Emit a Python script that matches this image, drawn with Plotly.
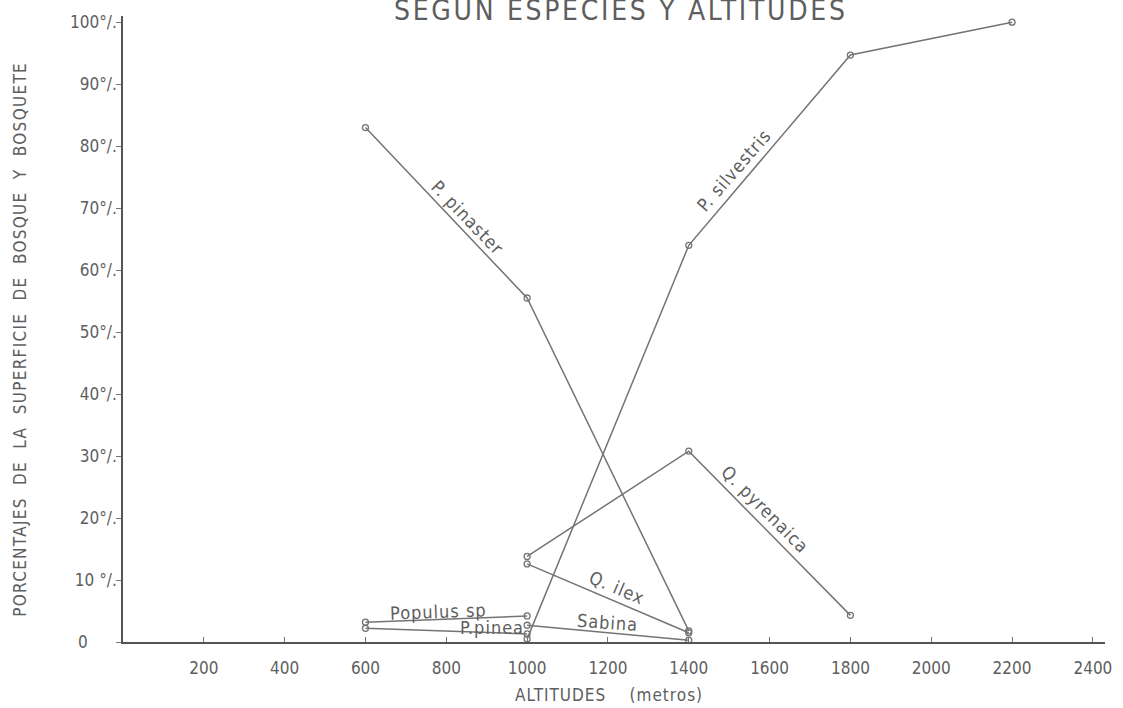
import plotly.graph_objects as go

# ---------------- data ----------------
pinaster_x = [600, 1000, 1400]
pinaster_y = [83.0, 55.5, 1.8]

silvestris_x = [1000, 1400, 1800, 2200]
silvestris_y = [0.5, 64.0, 94.7, 100.0]

pyrenaica_x = [1000, 1400, 1800]
pyrenaica_y = [13.8, 30.8, 4.3]

ilex_x = [1000, 1400]
ilex_y = [12.6, 1.5]

sabina_x = [1000, 1400]
sabina_y = [2.7, 0.3]

populus_x = [600, 1000]
populus_y = [3.2, 4.2]

pinea_x = [600, 1000]
pinea_y = [2.2, 1.3]

x_tickvals = [200, 400, 600, 800, 1000, 1200, 1400, 1600, 1800, 2000, 2200, 2400]
y_tickvals = [0, 10, 20, 30, 40, 50, 60, 70, 80, 90, 100]
y_ticktext = ["0\u00a0\u00a0\u00a0\u00a0\u00a0\u00a0", "10 °/.", "20°/.", "30°/.", "40°/.", "50°/.",
              "60°/.", "70°/.", "80°/.", "90°/.", "100°/."]

series = [
    ("P. pinaster", pinaster_x, pinaster_y),
    ("P. silvestris", silvestris_x, silvestris_y),
    ("Q. pyrenaica", pyrenaica_x, pyrenaica_y),
    ("Q. ilex", ilex_x, ilex_y),
    ("Sabina", sabina_x, sabina_y),
    ("Populus sp", populus_x, populus_y),
    ("P.pinea", pinea_x, pinea_y),
]

# label placement: (segment index, textangle, xshift, yshift)
label_style = {
    "P. pinaster": (0, 46, 21, -5),
    "P. silvestris": (1, -49, -36, -20),
    "Q. pyrenaica": (1, 45, -4, 24),
    "Q. ilex": (0, 23, 9, 11),
    "Sabina": (0, 4, 0, 10),
    "Populus sp": (0, -2, -8, 8),
    "P.pinea": (0, 0, 46, 4),
}

FONT = "Liberation Sans Narrow, DejaVu Sans Condensed, DejaVu Sans, sans-serif"
INK = "#5e5e5e"
LINE = "#747474"

fig = go.Figure()
for name, xs, ys in series:
    fig.add_trace(go.Scatter(
        x=xs, y=ys, mode="lines+markers", name=name,
        line=dict(color=LINE, width=1.5),
        marker=dict(symbol="circle-open", size=6, color=LINE, line=dict(width=1.3)),
        showlegend=False, hoverinfo="x+y+name",
    ))
    seg, ang, dx, dy = label_style[name]
    mx = (xs[seg] + xs[seg + 1]) / 2
    my = (ys[seg] + ys[seg + 1]) / 2
    fig.add_annotation(x=mx, y=my, xref="x", yref="y",
                       text='<span style="letter-spacing:1px">' + name + '</span>',
                       showarrow=False, textangle=ang, xshift=dx, yshift=dy,
                       font=dict(family=FONT, size=18, color=INK))

# title (partly cut by the top edge, as in the scan)
fig.add_annotation(x=0.5076, y=0.9797, xref="paper", yref="paper",
                   text='<span style="letter-spacing:2.7px">SEGUN ESPECIES Y ALTITUDES</span>',
                   showarrow=False, xanchor="center", yanchor="bottom",
                   font=dict(family=FONT, size=28, color=INK))

# y-axis title
fig.add_annotation(x=-0.1052, y=0.4839, xref="paper", yref="paper",
                   text='<span style="letter-spacing:1.3px">PORCENTAJES\u00a0 DE\u00a0 LA\u00a0 SUPERFICIE\u00a0 DE\u00a0 BOSQUE\u00a0 Y\u00a0 BOSQUETE</span>',
                   showarrow=False, textangle=-90, xanchor="center", yanchor="middle",
                   font=dict(family=FONT, size=17, color=INK))

# x-axis title
fig.add_annotation(x=0.4944, y=-0.0846, xref="paper", yref="paper",
                   text='<span style="letter-spacing:1px">ALTITUDES\u00a0\u00a0\u00a0 (metros)</span>',
                   showarrow=False, xanchor="center", yanchor="middle",
                   font=dict(family=FONT, size=17, color=INK))

fig.update_xaxes(range=[0, 2430], tickvals=x_tickvals, ticks="inside", ticklen=5,
                 tickcolor=LINE, tickwidth=1.3, showgrid=False, zeroline=False,
                 showline=True, linecolor="#555555", linewidth=1.6,
                 tickfont=dict(family=FONT, size=17, color=INK), ticklabelstandoff=10)
fig.update_yaxes(range=[0, 101], tickvals=y_tickvals, ticktext=y_ticktext, ticks="outside",
                 ticklen=5, tickcolor=LINE, tickwidth=1.3, showgrid=False, zeroline=False,
                 showline=True, linecolor="#555555", linewidth=1.6,
                 tickfont=dict(family=FONT, size=17, color=INK), ticklabelstandoff=-4)

fig.update_layout(width=1123, height=708, margin=dict(l=123, r=11, t=16, b=66),
                  plot_bgcolor="white", paper_bgcolor="white", showlegend=False)

fig.write_html("out.html", config={"displayModeBar": False},
               post_script="document.body.style.margin='0px';document.body.style.overflow='hidden';")
